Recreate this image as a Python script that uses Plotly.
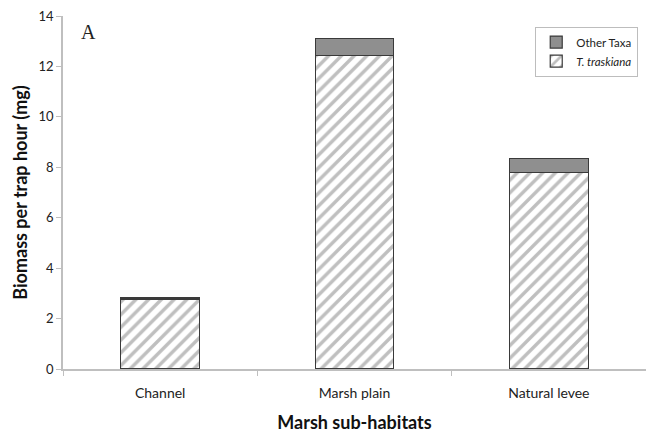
import plotly.graph_objects as go

categories = ["Channel", "Marsh plain", "Natural levee"]
traskiana = [2.78, 12.42, 7.78]
other_taxa = [0.06, 0.70, 0.58]
y_ticks = [0, 2, 4, 6, 8, 10, 12, 14]

fig = go.Figure()
fig.add_trace(go.Bar(
    x=categories, y=traskiana, name="<i>T. traskiana</i>",
    marker=dict(color="white",
                line=dict(color="#3a3a3a", width=1.2),
                pattern=dict(shape="/", fgcolor="#808080", bgcolor="white",
                             size=9, solidity=0.38)),
))
fig.add_trace(go.Bar(
    x=categories, y=other_taxa, name="Other Taxa",
    marker=dict(color="#8f8f8f", line=dict(color="#3a3a3a", width=1.2)),
))

fig.update_layout(
    width=646, height=433,
    barmode="stack", bargap=0.595,
    plot_bgcolor="white", paper_bgcolor="white",
    margin=dict(l=63, r=0, t=16, b=64, autoexpand=False),
    font=dict(family="Lato, Open Sans, sans-serif", size=12, color="#222"),
    showlegend=True,
    legend=dict(x=0.81, y=0.97, xanchor="left", yanchor="top",
                traceorder="reversed", bordercolor="#bdbdbd", borderwidth=1,
                bgcolor="white", font=dict(size=11.5, color="#222"),
                itemwidth=30, tracegroupgap=2),
    annotations=[dict(text="A", x=0.028, y=0.955, xref="paper", yref="paper",
                      xanchor="left", yanchor="middle", showarrow=False,
                      font=dict(family="Liberation Serif, serif", size=20, color="#222"))],
)
fig.update_xaxes(
    showline=True, linecolor="#bfbfbf", linewidth=1.5,
    ticks="outside", tickson="boundaries", ticklen=5, tickcolor="#bfbfbf",
    ticklabelstandoff=10,
    tickfont=dict(size=14),
    title=dict(text="<b>Marsh sub-habitats</b>", font=dict(size=18, color="#111"), standoff=19),
)
fig.update_yaxes(
    range=[0, 14], tickvals=y_ticks, showgrid=False, zeroline=False,
    showline=True, linecolor="#bfbfbf", linewidth=1.5,
    ticks="outside", ticklen=5, tickcolor="#bfbfbf",
    tickfont=dict(size=13),
    title=dict(text="<b>Biomass per trap hour (mg)</b>", font=dict(size=18, color="#111"), standoff=6),
)

fig.write_html("out.html", config={"displayModeBar": False},
               post_script="document.body.style.margin='0';")
